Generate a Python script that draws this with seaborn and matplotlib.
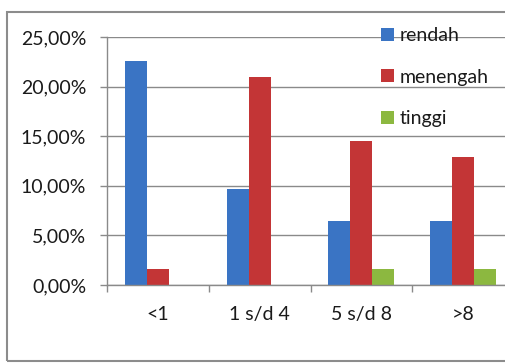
import numpy as np
import pandas as pd
import seaborn as sns
import matplotlib.pyplot as plt
from matplotlib.patches import Rectangle
from matplotlib.ticker import FuncFormatter

categories = ['<1', '1 s/d 4', '5 s/d 8', '>8']
levels = ['rendah', 'menengah', 'tinggi']
rendah = [22.58, 9.68, 6.45, 6.45]
menengah = [1.61, 20.97, 14.52, 12.90]
tinggi = [0.0, 0.0, 1.61, 1.61]
colors = ['#3a74c4', '#c33536', '#8cb840']

df = pd.DataFrame({'kategori': categories * 3,
                   'level': np.repeat(levels, len(categories)),
                   'nilai': rendah + menengah + tinggi})

sns.set_style('white')
plt.rcParams['font.family'] = ['Lato', 'DejaVu Sans']

fig = plt.figure(figsize=(5.05, 3.64), dpi=100)
# outer chart border
fig.patches.append(Rectangle((7 / 505, 3 / 364), 1.2, 349 / 364, transform=fig.transFigure,
                             fill=False, edgecolor='#8c8c8c', linewidth=1.5))
ax = fig.add_axes([107 / 505, 79 / 364, 407 / 505, 248 / 364])

sns.barplot(data=df, x='kategori', y='nilai', hue='level', palette=colors,
            width=0.65, saturation=1, ax=ax, linewidth=0)

ax.set_ylim(0, 25)
ax.set_yticks([0, 5, 10, 15, 20, 25])
ax.yaxis.set_major_formatter(FuncFormatter(lambda v, p: f'{v:.2f}%'.replace('.', ',')))
ax.grid(axis='y', color='#8a8a8a', linewidth=1)
ax.set_axisbelow(True)
ax.set_xlim(-0.5, 3.5)
ax.set_xlabel('')
ax.set_ylabel('')

for s in ['top', 'right']:
    ax.spines[s].set_visible(False)
for s in ['left', 'bottom']:
    ax.spines[s].set_color('#8a8a8a')
    ax.spines[s].set_linewidth(1)

fs = 14
ax.tick_params(axis='y', length=5, width=1, color='#8a8a8a', pad=10, labelsize=fs, labelcolor='#1a1a1a', left=True)
ax.tick_params(axis='x', length=0, pad=15, labelsize=fs, labelcolor='#1a1a1a')
ax.set_xticks(np.arange(-0.5, 4.0, 1.0), minor=True)
ax.tick_params(axis='x', which='minor', length=5, width=1, color='#8a8a8a', bottom=True)

leg = ax.legend(loc='upper left', bbox_to_anchor=(0.655, 1.07), frameon=False,
                fontsize=fs, labelspacing=1.25, handlelength=0.65, handleheight=0.65,
                handletextpad=0.3, borderaxespad=0)
for t in leg.get_texts():
    t.set_color('#1a1a1a')

fig.savefig('out.png', dpi=100)
